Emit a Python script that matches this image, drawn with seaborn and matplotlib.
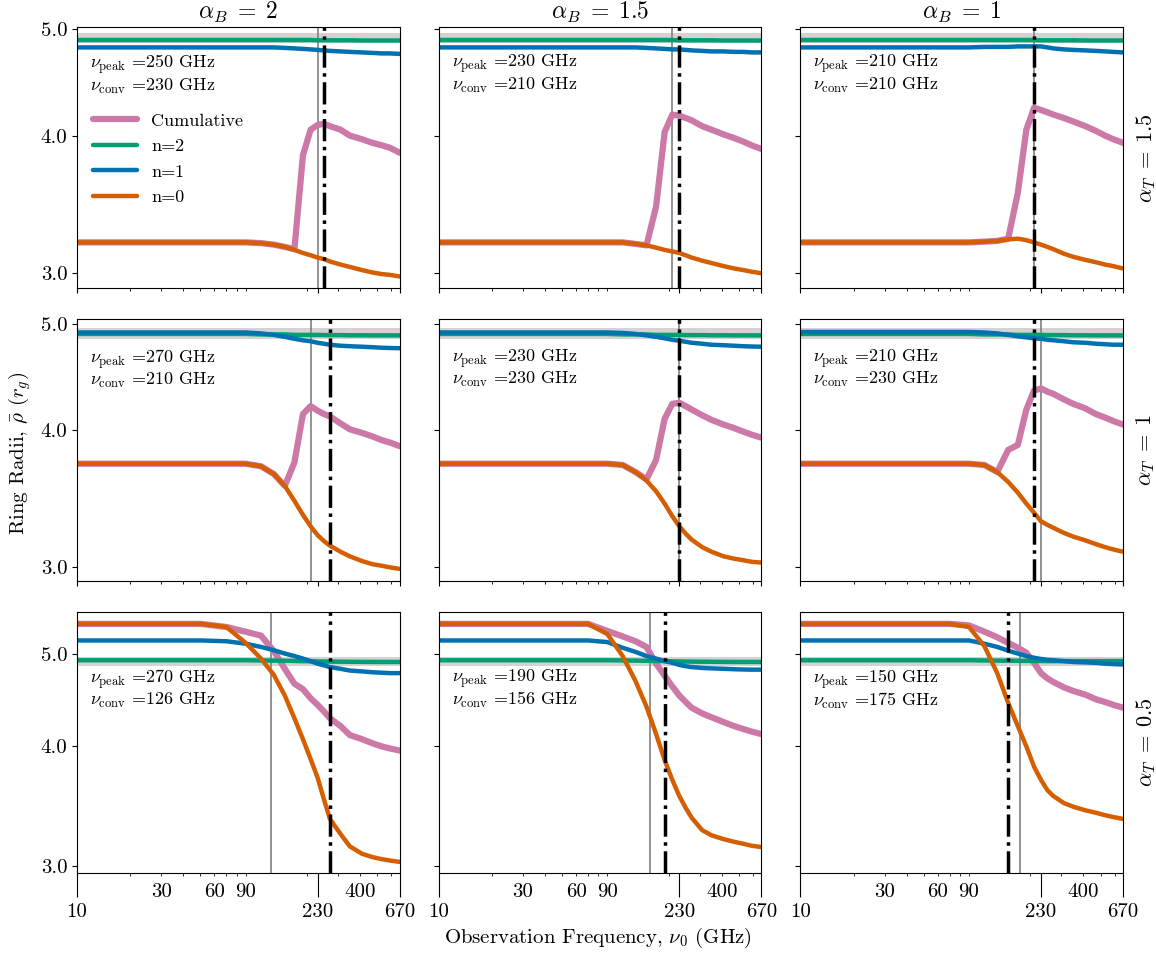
import matplotlib
matplotlib.use('Agg')
import matplotlib.pyplot as plt
from matplotlib.ticker import FixedLocator, FixedFormatter, NullLocator
import seaborn as sns

# Observation frequencies (GHz) of the ring-radius curves
freq = [10, 30, 50, 70, 90, 110, 130, 150, 170, 190, 210, 230, 250, 270, 310, 350, 410, 470, 530, 590, 670]

alpha_B = ['2', '1.5', '1']
alpha_T = ['1.5', '1', '0.5']

nu_peak = [[250, 230, 210], [270, 230, 210], [270, 190, 150]]
nu_conv = [[230, 210, 210], [210, 230, 230], [126, 156, 175]]

# ring radii per panel, keyed (row, col)
cumulative = {
    (0, 0): [3.20, 3.20, 3.20, 3.20, 3.20, 3.195, 3.185, 3.17, 3.155, 3.84, 4.05, 4.09, 4.10, 4.08, 4.05, 4.00, 3.97, 3.94, 3.92, 3.90, 3.86],
    (0, 1): [3.20, 3.20, 3.20, 3.20, 3.20, 3.20, 3.19, 3.18, 3.45, 4.03, 4.18, 4.17, 4.15, 4.13, 4.08, 4.05, 4.01, 3.98, 3.95, 3.92, 3.89],
    (0, 2): [3.20, 3.20, 3.20, 3.20, 3.20, 3.205, 3.21, 3.225, 3.55, 4.05, 4.24, 4.22, 4.20, 4.18, 4.15, 4.12, 4.08, 4.04, 4.00, 3.97, 3.94],
    (1, 0): [3.73, 3.73, 3.73, 3.73, 3.73, 3.71, 3.65, 3.56, 3.74, 4.14, 4.21, 4.17, 4.14, 4.12, 4.06, 4.01, 3.98, 3.95, 3.92, 3.90, 3.87],
    (1, 1): [3.73, 3.73, 3.73, 3.73, 3.73, 3.72, 3.665, 3.61, 3.76, 4.10, 4.23, 4.24, 4.21, 4.18, 4.13, 4.09, 4.05, 4.02, 3.99, 3.965, 3.94],
    (1, 2): [3.73, 3.73, 3.73, 3.73, 3.73, 3.72, 3.665, 3.84, 3.88, 4.18, 4.35, 4.37, 4.34, 4.32, 4.27, 4.23, 4.19, 4.14, 4.11, 4.08, 4.05],
    (2, 0): [5.37, 5.37, 5.37, 5.33, 5.27, 5.22, 5.03, 4.82, 4.65, 4.59, 4.49, 4.42, 4.35, 4.28, 4.20, 4.11, 4.07, 4.03, 4.00, 3.98, 3.96],
    (2, 1): [5.37, 5.37, 5.37, 5.37, 5.28, 5.21, 5.15, 5.08, 4.88, 4.74, 4.62, 4.52, 4.45, 4.39, 4.33, 4.29, 4.24, 4.20, 4.17, 4.145, 4.12],
    (2, 2): [5.37, 5.37, 5.37, 5.37, 5.35, 5.27, 5.20, 5.13, 5.07, 5.01, 4.89, 4.77, 4.71, 4.67, 4.61, 4.57, 4.53, 4.48, 4.45, 4.42, 4.39],
}
n2 = {
    (0, 0): [4.885, 4.885, 4.885, 4.885, 4.885, 4.885, 4.885, 4.885, 4.885, 4.885, 4.885, 4.882, 4.882, 4.882, 4.882, 4.882, 4.88, 4.88, 4.88, 4.88, 4.88],
    (0, 1): [4.885, 4.885, 4.885, 4.885, 4.885, 4.885, 4.885, 4.885, 4.885, 4.885, 4.885, 4.882, 4.882, 4.882, 4.882, 4.882, 4.88, 4.88, 4.88, 4.88, 4.88],
    (0, 2): [4.885, 4.885, 4.885, 4.885, 4.885, 4.885, 4.885, 4.885, 4.885, 4.885, 4.885, 4.882, 4.882, 4.882, 4.882, 4.882, 4.88, 4.88, 4.88, 4.88, 4.88],
    (1, 0): [4.90, 4.90, 4.90, 4.90, 4.90, 4.895, 4.895, 4.895, 4.89, 4.89, 4.89, 4.89, 4.888, 4.888, 4.888, 4.886, 4.886, 4.885, 4.885, 4.885, 4.885],
    (1, 1): [4.90, 4.90, 4.90, 4.90, 4.90, 4.895, 4.895, 4.895, 4.89, 4.89, 4.89, 4.89, 4.888, 4.888, 4.888, 4.886, 4.886, 4.885, 4.885, 4.885, 4.885],
    (1, 2): [4.90, 4.90, 4.90, 4.90, 4.90, 4.895, 4.895, 4.895, 4.89, 4.89, 4.89, 4.89, 4.888, 4.888, 4.888, 4.886, 4.886, 4.885, 4.885, 4.885, 4.885],
    (2, 0): [4.92, 4.92, 4.92, 4.92, 4.92, 4.918, 4.916, 4.914, 4.912, 4.91, 4.908, 4.906, 4.905, 4.904, 4.903, 4.902, 4.901, 4.90, 4.90, 4.90, 4.90],
    (2, 1): [4.92, 4.92, 4.92, 4.92, 4.92, 4.918, 4.916, 4.914, 4.912, 4.91, 4.908, 4.906, 4.905, 4.904, 4.903, 4.902, 4.901, 4.90, 4.90, 4.90, 4.90],
    (2, 2): [4.92, 4.92, 4.92, 4.92, 4.92, 4.918, 4.916, 4.915, 4.914, 4.913, 4.912, 4.911, 4.91, 4.91, 4.91, 4.91, 4.91, 4.91, 4.91, 4.91, 4.91],
}
n1 = {
    (0, 0): [4.81, 4.81, 4.81, 4.81, 4.81, 4.81, 4.81, 4.805, 4.80, 4.795, 4.79, 4.785, 4.78, 4.775, 4.77, 4.765, 4.76, 4.755, 4.75, 4.75, 4.745],
    (0, 1): [4.81, 4.81, 4.81, 4.81, 4.81, 4.81, 4.81, 4.805, 4.80, 4.795, 4.79, 4.79, 4.785, 4.78, 4.775, 4.77, 4.77, 4.765, 4.765, 4.76, 4.76],
    (0, 2): [4.81, 4.81, 4.81, 4.81, 4.81, 4.815, 4.815, 4.815, 4.82, 4.82, 4.82, 4.82, 4.81, 4.80, 4.79, 4.785, 4.78, 4.775, 4.77, 4.765, 4.76],
    (1, 0): [4.915, 4.915, 4.915, 4.915, 4.915, 4.905, 4.89, 4.87, 4.85, 4.835, 4.825, 4.81, 4.80, 4.79, 4.78, 4.775, 4.77, 4.765, 4.76, 4.757, 4.755],
    (1, 1): [4.915, 4.915, 4.915, 4.915, 4.915, 4.91, 4.90, 4.885, 4.87, 4.855, 4.84, 4.83, 4.82, 4.81, 4.80, 4.79, 4.785, 4.78, 4.775, 4.772, 4.77],
    (1, 2): [4.92, 4.92, 4.92, 4.92, 4.92, 4.915, 4.905, 4.89, 4.875, 4.865, 4.855, 4.85, 4.84, 4.835, 4.825, 4.815, 4.81, 4.80, 4.795, 4.79, 4.79],
    (2, 0): [5.16, 5.16, 5.16, 5.15, 5.12, 5.08, 5.04, 5.00, 4.97, 4.94, 4.91, 4.88, 4.86, 4.84, 4.82, 4.80, 4.79, 4.78, 4.775, 4.77, 4.77],
    (2, 1): [5.16, 5.16, 5.16, 5.16, 5.14, 5.07, 5.02, 4.97, 4.94, 4.91, 4.89, 4.865, 4.85, 4.84, 4.83, 4.825, 4.82, 4.815, 4.812, 4.81, 4.81],
    (2, 2): [5.16, 5.16, 5.16, 5.16, 5.16, 5.12, 5.08, 5.035, 5.00, 4.97, 4.95, 4.935, 4.925, 4.92, 4.91, 4.90, 4.895, 4.89, 4.88, 4.875, 4.87],
}
n0 = {
    (0, 0): [3.20, 3.20, 3.20, 3.20, 3.20, 3.195, 3.185, 3.17, 3.15, 3.13, 3.115, 3.10, 3.09, 3.075, 3.055, 3.04, 3.02, 3.005, 2.995, 2.99, 2.98],
    (0, 1): [3.20, 3.20, 3.20, 3.20, 3.20, 3.20, 3.19, 3.18, 3.165, 3.15, 3.14, 3.13, 3.115, 3.10, 3.08, 3.065, 3.045, 3.03, 3.02, 3.01, 3.00],
    (0, 2): [3.20, 3.20, 3.20, 3.20, 3.20, 3.205, 3.21, 3.22, 3.225, 3.215, 3.20, 3.185, 3.17, 3.155, 3.125, 3.105, 3.085, 3.07, 3.055, 3.045, 3.03],
    (1, 0): [3.73, 3.73, 3.73, 3.73, 3.73, 3.71, 3.65, 3.56, 3.45, 3.35, 3.27, 3.21, 3.17, 3.14, 3.10, 3.07, 3.04, 3.02, 3.01, 3.00, 2.99],
    (1, 1): [3.73, 3.73, 3.73, 3.73, 3.73, 3.72, 3.665, 3.60, 3.52, 3.43, 3.34, 3.27, 3.22, 3.18, 3.13, 3.10, 3.07, 3.055, 3.045, 3.035, 3.03],
    (1, 2): [3.73, 3.73, 3.73, 3.73, 3.73, 3.72, 3.665, 3.59, 3.51, 3.43, 3.365, 3.305, 3.28, 3.26, 3.225, 3.20, 3.175, 3.15, 3.13, 3.115, 3.10],
    (2, 0): [5.37, 5.37, 5.37, 5.33, 5.13, 4.94, 4.75, 4.52, 4.28, 4.07, 3.88, 3.71, 3.52, 3.36, 3.24, 3.145, 3.09, 3.065, 3.05, 3.04, 3.03],
    (2, 1): [5.37, 5.37, 5.37, 5.37, 5.24, 4.97, 4.68, 4.40, 4.12, 3.87, 3.69, 3.55, 3.45, 3.37, 3.27, 3.23, 3.20, 3.18, 3.165, 3.15, 3.14],
    (2, 2): [5.37, 5.37, 5.37, 5.37, 5.33, 5.09, 4.77, 4.44, 4.20, 4.00, 3.81, 3.69, 3.60, 3.55, 3.49, 3.46, 3.43, 3.41, 3.39, 3.375, 3.36],
}

row_ylim = [(2.907, 5.02), (2.917, 5.053), (2.95, 5.53)]
text_y = [0.905, 0.895, 0.79]

sns.set_style('ticks', rc={'axes.edgecolor': 'black', 'xtick.color': 'black', 'ytick.color': 'black',
                           'text.color': 'black', 'axes.labelcolor': 'black'})
plt.rcParams['font.family'] = ['cmr10', 'DejaVu Serif']
plt.rcParams['mathtext.fontset'] = 'cm'
plt.rcParams['axes.formatter.use_mathtext'] = True
plt.rcParams['axes.unicode_minus'] = False

# Okabe-Ito colours
c_cum, c_n2, c_n1, c_n0 = '#CC79A7', '#009E73', '#0072B2', '#D55E00'

fig, axes = plt.subplots(3, 3, figsize=(11.56, 9.56), dpi=100, sharex=True, sharey='row')
fig.subplots_adjust(left=0.0666, right=0.9715, top=0.9718, bottom=0.0868, wspace=0.121, hspace=0.1185)

minor_ticks = [20, 30, 40, 50, 60, 70, 80, 90, 200, 300, 400, 500, 600]
minor_labels = ['', '30', '', '', '60', '', '', '90', '', '', '400', '', '']

for i in range(3):
    for j in range(3):
        ax = axes[i, j]
        ax.set_xscale('log')
        ax.set_yscale('log')
        key = (i, j)
        ax.axhspan(4.85, 4.96, color='#d3d3d3', lw=0, zorder=1)
        ax.axvline(nu_conv[i][j], color='#808080', lw=1.2, zorder=1.5)
        first = (i == 0 and j == 0)
        sns.lineplot(x=freq, y=cumulative[key], ax=ax, color=c_cum, lw=4.5, zorder=2,
                     label='Cumulative' if first else None)
        sns.lineplot(x=freq, y=n2[key], ax=ax, color=c_n2, lw=3.2, zorder=2.1,
                     label='n=2' if first else None)
        sns.lineplot(x=freq, y=n1[key], ax=ax, color=c_n1, lw=3.2, zorder=2.2,
                     label='n=1' if first else None)
        sns.lineplot(x=freq, y=n0[key], ax=ax, color=c_n0, lw=3.2, zorder=2.3,
                     label='n=0' if first else None)
        ax.axvline(nu_peak[i][j], color='black', lw=2.5, ls='-.', zorder=3)

        ax.set_xlim(10, 670)
        ax.set_ylim(*row_ylim[i])
        ax.set_xticks([10, 230, 670])
        ax.set_xticklabels(['10', '230', '670'])
        ax.xaxis.set_minor_locator(FixedLocator(minor_ticks))
        ax.xaxis.set_minor_formatter(FixedFormatter(minor_labels))
        ax.set_yticks([3, 4, 5])
        ax.set_yticklabels(['3.0', '4.0', '5.0'])
        ax.yaxis.set_minor_locator(NullLocator())
        ax.tick_params(axis='both', which='both', labelsize=15)
        ax.tick_params(axis='x', which='both', pad=5)
        ax.set_xlabel('')
        ax.set_ylabel('')
        if i == 2:
            ax.tick_params(axis='x', which='major', length=17)

        ax.text(0.04, text_y[i],
                r'$\nu_{\rm peak}$ =' + f'{nu_peak[i][j]} GHz\n' + r'$\nu_{\rm conv}$ =' + f'{nu_conv[i][j]} GHz',
                transform=ax.transAxes, va='top', ha='left', fontsize=13, linespacing=1.05)

        if i == 0:
            ax.set_title(r'$\alpha_B\;=\;' + alpha_B[j] + '$', fontsize=17)
        if j == 2:
            ax.text(1.035, 0.5, r'$\alpha_T\;=\;' + alpha_T[i] + '$', transform=ax.transAxes,
                    rotation=90, va='center', ha='left', fontsize=16)
        if first:
            ax.legend(loc='upper left', bbox_to_anchor=(0.0, 0.733), frameon=False,
                      fontsize=13, handlelength=2.4, labelspacing=0.55)
        elif ax.get_legend() is not None:
            ax.get_legend().remove()

fig.text(0.517, 0.019, r'Observation Frequency, $\nu_0$ (GHz)', ha='center', va='center', fontsize=15)
fig.text(0.0173, 0.526, r'Ring Radii, $\bar{\rho}$ $(r_g)$', ha='center', va='center',
         rotation=90, fontsize=15)

fig.savefig('out.png', dpi=100)
